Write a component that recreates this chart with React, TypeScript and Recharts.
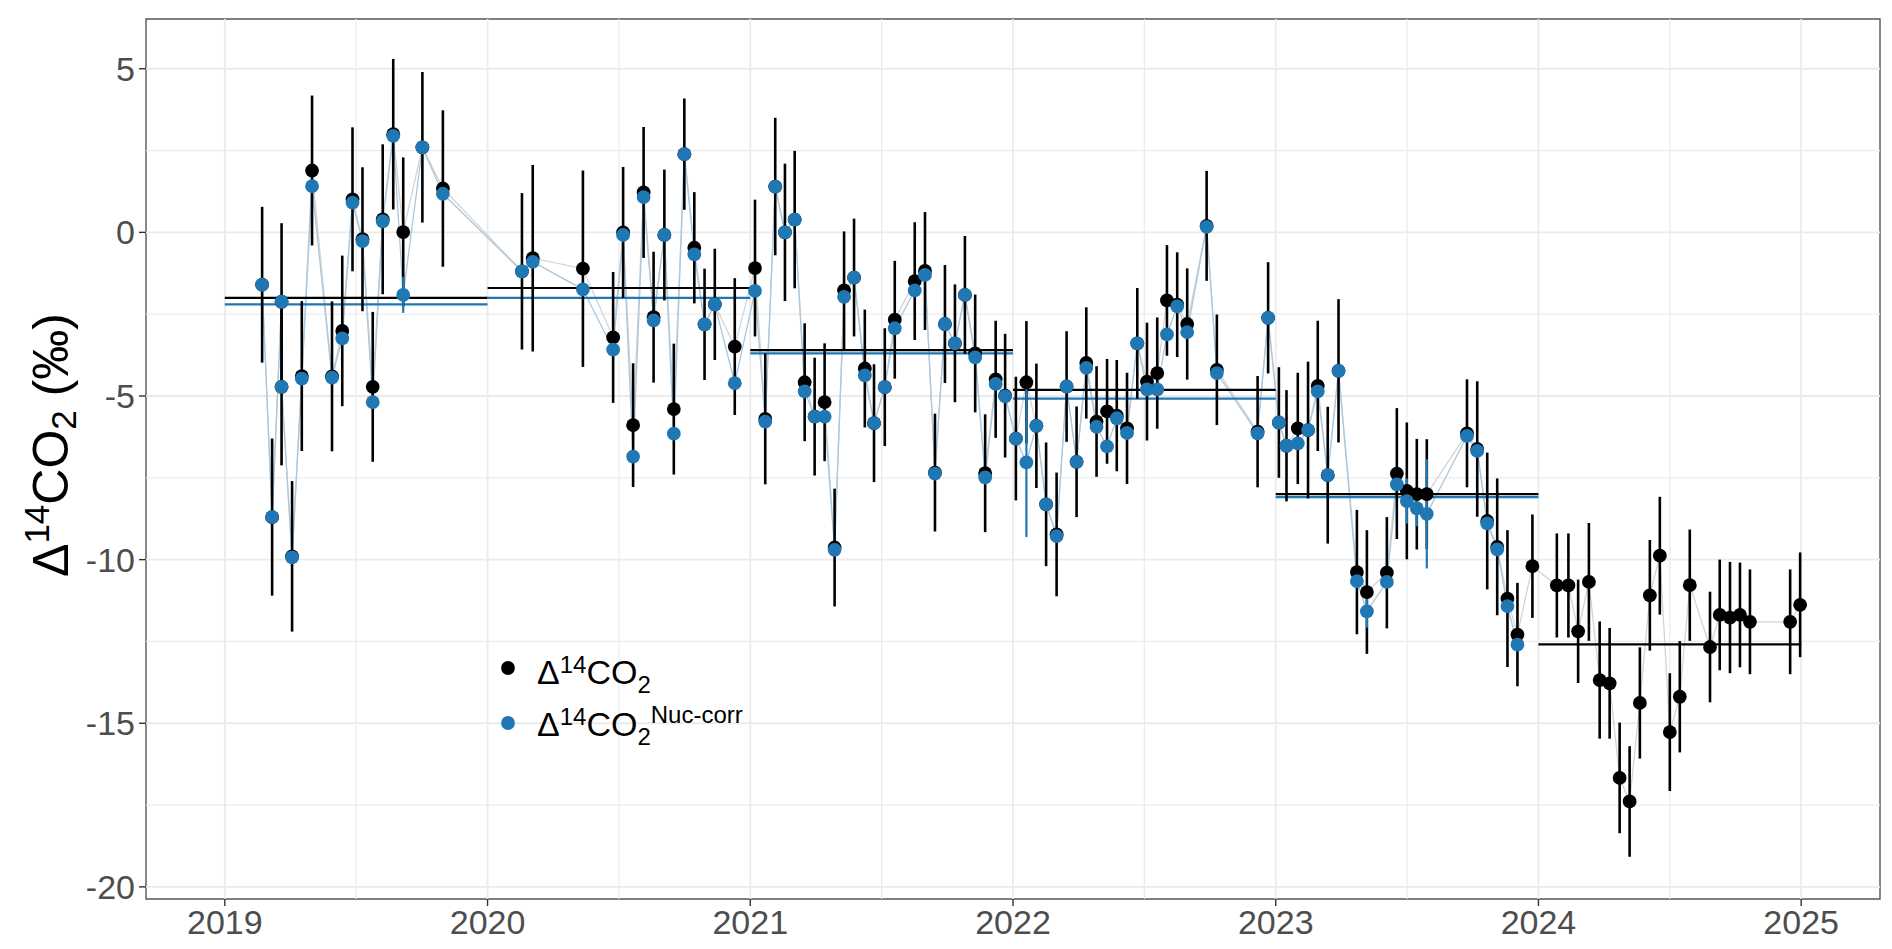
import React from 'react';
import {
  ComposedChart, Line, Scatter, ErrorBar, XAxis, YAxis, ReferenceLine, ReferenceArea, Legend,
} from 'recharts';

// sample dates (decimal year)
const sampleDates = [
  2019.142, 2019.18, 2019.216, 2019.216, 2019.256, 2019.293, 2019.332, 2019.408, 2019.447, 2019.486,
  2019.524, 2019.563, 2019.601, 2019.641, 2019.679, 2019.752, 2019.83,
  2020.131, 2020.172, 2020.363, 2020.478, 2020.516, 2020.554, 2020.594, 2020.632, 2020.673, 2020.709,
  2020.749, 2020.787, 2020.826, 2020.865, 2020.941,
  2021.018, 2021.057, 2021.095, 2021.132, 2021.169, 2021.207, 2021.245, 2021.283, 2021.321, 2021.357,
  2021.395, 2021.436, 2021.471, 2021.512, 2021.55, 2021.626, 2021.665, 2021.703, 2021.741, 2021.779,
  2021.817, 2021.856, 2021.894, 2021.934, 2021.97,
  2022.011, 2022.051, 2022.089, 2022.126, 2022.166, 2022.204, 2022.242, 2022.279, 2022.318, 2022.358,
  2022.395, 2022.434, 2022.473, 2022.51, 2022.549, 2022.586, 2022.625, 2022.663, 2022.737, 2022.776,
  2022.931, 2022.971,
  2023.012, 2023.041, 2023.084, 2023.123, 2023.16, 2023.198, 2023.239, 2023.309, 2023.347, 2023.423,
  2023.461, 2023.499, 2023.537, 2023.575, 2023.728, 2023.767, 2023.805, 2023.843, 2023.882, 2023.92,
  2023.977,
  2024.07, 2024.114, 2024.151, 2024.192, 2024.233, 2024.271, 2024.309, 2024.347, 2024.386, 2024.424,
  2024.462, 2024.5, 2024.538, 2024.576, 2024.653, 2024.69, 2024.729, 2024.767, 2024.805, 2024.958,
  2024.996,
];

// Δ14CO2 (‰)
const d14co2 = [
  -1.6, -8.7, -2.12, -4.72, -9.9, -4.39, 1.89, -4.4, -3.01, 1.01,
  -0.21, -4.72, 0.4, 3.0, 0.01, 2.6, 1.34,
  -1.19, -0.79, -1.11, -3.21, 0.0, -5.89, 1.22, -2.59, -0.08, -5.4,
  2.39, -0.47, -2.81, -2.2, -3.49,
  -1.09, -5.7, 1.4, 0.0, 0.39, -4.58, -5.63, -5.19, -9.63, -1.77,
  -1.38, -4.16, -5.83, -4.73, -2.67, -1.49, -1.18, -7.34, -2.8, -3.39,
  -1.91, -3.7, -7.36, -4.49, -4.99,
  -6.3, -4.58, -5.91, -8.31, -9.23, -4.71, -7.01, -3.99, -5.78, -5.47,
  -5.6, -5.99, -3.39, -4.56, -4.3, -2.08, -2.21, -2.8, 0.2, -4.2,
  -6.09, -2.61,
  -5.81, -6.52, -5.99, -6.04, -4.69, -7.42, -4.23, -10.38, -10.99, -10.4,
  -7.37, -7.9, -8.0, -8.0, -6.14, -6.62, -8.82, -9.61, -11.19, -12.29,
  -10.2,
  -10.79, -10.79, -12.19, -10.68, -13.68, -13.78, -16.67, -17.39, -14.38, -11.09,
  -9.88, -15.27, -14.19, -10.78, -12.67, -11.69, -11.77, -11.69, -11.9, -11.9,
  -11.38,
];

const d14co2Err = [
  2.38, 2.4, 2.4, 2.4, 2.3, 2.29, 2.29, 2.29, 2.3, 2.2,
  2.2, 2.29, 2.29, 2.3, 2.28, 2.3, 2.39,
  2.39, 2.85, 3.0, 2.0, 2.0, 1.89, 2.0, 2.0, 2.0, 2.0,
  1.7, 1.7, 1.7, 1.7, 2.09,
  2.09, 2.0, 2.1, 2.1, 2.1, 1.8, 1.8, 1.8, 1.8, 1.8,
  1.8, 1.8, 1.8, 1.8, 1.8, 1.8, 1.8, 1.8, 1.8, 1.8,
  1.8, 1.8, 1.8, 1.79, 1.89,
  1.89, 1.87, 1.9, 1.89, 1.89, 1.69, 1.69, 1.7, 1.69, 1.6,
  1.7, 1.7, 1.69, 1.8, 1.7, 1.69, 1.6, 1.7, 1.68, 1.69,
  1.7, 1.7,
  1.69, 1.7, 1.7, 2.09, 1.99, 2.09, 2.19, 1.9, 1.89, 1.7,
  2.0, 2.09, 1.69, 1.68, 1.65, 2.07, 2.09, 2.09, 2.09, 1.58,
  1.58,
  1.59, 1.59, 1.58, 1.8, 1.79, 1.69, 1.69, 1.69, 1.7, 1.69,
  1.8, 1.8, 1.7, 1.7, 1.69, 1.69, 1.7, 1.6, 1.6, 1.6,
  1.6,
];

// Δ14CO2 Nuc-corr (‰), none after 2023.92
const nucCorr = [
  -1.6, -8.7, -2.12, -4.72, -9.93, -4.47, 1.41, -4.44, -3.24, 0.91,
  -0.27, -5.19, 0.34, 2.95, -1.91, 2.6, 1.18,
  -1.19, -0.9, -1.74, -3.58, -0.08, -6.85, 1.08, -2.69, -0.08, -6.15,
  2.39, -0.67, -2.81, -2.2, -4.61,
  -1.79, -5.78, 1.4, 0.0, 0.39, -4.86, -5.63, -5.63, -9.7, -1.97,
  -1.38, -4.37, -5.83, -4.73, -2.93, -1.77, -1.3, -7.37, -2.8, -3.39,
  -1.91, -3.82, -7.49, -4.63, -5.01,
  -6.3, -7.03, -5.91, -8.31, -9.28, -4.71, -7.01, -4.14, -5.94, -6.54,
  -5.68, -6.13, -3.39, -4.8, -4.8, -3.12, -2.26, -3.05, 0.17, -4.3,
  -6.14, -2.61,
  -5.81, -6.52, -6.45, -6.04, -4.86, -7.42, -4.23, -10.66, -11.58, -10.68,
  -7.7, -8.21, -8.43, -8.6, -6.22, -6.68, -8.89, -9.69, -11.42, -12.6,
  null,
  null, null, null, null, null, null, null, null, null, null,
  null, null, null, null, null, null, null, null, null, null,
  null,
];

// extra uncertainty drawn for a few corrected samples (index -> ‰)
const nucCorrErr: Record<number, number> = {
  14: 0.55, 58: 2.28, 87: 0.5, 90: 0.69, 91: 0.55, 92: 1.67,
};

const years = [2019, 2020, 2021, 2022, 2023, 2024];
const annualMean = [-2.0, -1.7, -3.6, -4.81, -8.0, -12.59];
const annualMeanNuc = [-2.2, -2.0, -3.7, -5.08, -8.09, null];

const xTicks = [2019, 2020, 2021, 2022, 2023, 2024, 2025];
const xMinor = [2019.5, 2020.5, 2021.5, 2022.5, 2023.5, 2024.5];
const yTicks = [-20, -15, -10, -5, 0, 5];
const yMinor = [-17.5, -12.5, -7.5, -2.5, 2.5];

const X_DOMAIN: [number, number] = [2018.7, 2025.3];
const Y_DOMAIN: [number, number] = [-20.37, 6.52];

const BLUE = '#1f77b4';
const GRID = '#ebebeb';
const FONT = '"Liberation Sans", Arial, sans-serif';

const rawData = sampleDates.map((t, i) => ({ t, v: d14co2[i], e: d14co2Err[i] }));
const corrData = sampleDates
  .map((t, i) => ({ t, v: nucCorr[i], e: nucCorrErr[i] ?? 0 }))
  .filter((d) => d.v !== null);

const blackDot = (p: any) => <circle cx={p.cx} cy={p.cy} r={6.9} fill="#000" />;
const blueDot = (p: any) => <circle cx={p.cx} cy={p.cy} r={6.9} fill={BLUE} />;

const YLabel = () => (
  <text
    transform="translate(68,445) rotate(-90)"
    textAnchor="middle"
    fontSize={50}
    fontFamily={FONT}
    fill="#000"
  >
    Δ<tspan dy={-19} fontSize={35}>14</tspan>
    <tspan dy={19}>CO</tspan>
    <tspan dy={8} fontSize={35}>2</tspan>
    <tspan dy={-8}> (‰)</tspan>
  </text>
);

const LegendBox = () => (
  <svg width={380} height={130} style={{ fontFamily: FONT }}>
    <circle cx={28} cy={28} r={6.9} fill="#000" />
    <text x={57} y={44} fontSize={34} fill="#000">
      Δ<tspan dy={-11} fontSize={24}>14</tspan>
      <tspan dy={11}>CO</tspan>
      <tspan dy={9} fontSize={24}>2</tspan>
    </text>
    <circle cx={28} cy={83} r={6.9} fill={BLUE} />
    <text x={57} y={96} fontSize={34} fill="#000">
      Δ<tspan dy={-11} fontSize={24}>14</tspan>
      <tspan dy={11}>CO</tspan>
      <tspan dy={9} fontSize={24}>2</tspan>
      <tspan dy={-22} fontSize={24}>Nuc-corr</tspan>
    </text>
  </svg>
);

export default function App() {
  return (
    <div style={{ position: 'absolute', left: 0, top: 0, width: 1892, height: 949, background: '#fff' }}>
      <ComposedChart width={1892} height={949} margin={{ top: 19, right: 12, bottom: 0, left: 0 }}>
        <XAxis
          type="number"
          dataKey="t"
          domain={X_DOMAIN}
          ticks={xTicks}
          allowDataOverflow
          height={50}
          axisLine={false}
          tickLine={{ stroke: '#333', strokeWidth: 1.4 }}
          tickSize={7}
          tickMargin={4}
          tick={{ fontSize: 34, fill: '#4d4d4d', fontFamily: FONT }}
        />
        <YAxis
          type="number"
          dataKey="v"
          domain={Y_DOMAIN}
          ticks={yTicks}
          allowDataOverflow
          width={146}
          axisLine={false}
          tickLine={{ stroke: '#333', strokeWidth: 1.4 }}
          tickSize={7}
          tickMargin={4}
          tick={{ fontSize: 34, fill: '#4d4d4d', fontFamily: FONT }}
          label={{ content: () => <YLabel /> }}
        />

        {yMinor.map((v) => (
          <ReferenceLine key={`ym${v}`} y={v} stroke={GRID} strokeWidth={1.2} />
        ))}
        {xMinor.map((v) => (
          <ReferenceLine key={`xm${v}`} x={v} stroke={GRID} strokeWidth={1.2} />
        ))}
        {yTicks.map((v) => (
          <ReferenceLine key={`y${v}`} y={v} stroke={GRID} strokeWidth={1.8} />
        ))}
        {xTicks.map((v) => (
          <ReferenceLine key={`x${v}`} x={v} stroke={GRID} strokeWidth={1.8} />
        ))}

        <Line data={rawData} dataKey="v" stroke="#d4d4d4" strokeWidth={1.3} dot={false} isAnimationActive={false} />
        <Line data={corrData} dataKey="v" stroke="#a9c8df" strokeWidth={1.3} dot={false} isAnimationActive={false} />

        {years.map((y, i) => (
          <ReferenceLine
            key={`mb${y}`}
            segment={[{ x: y, y: annualMean[i] }, { x: y + 1, y: annualMean[i] }]}
            stroke="#000"
            strokeWidth={2.2}
          />
        ))}
        {years.map((y, i) =>
          annualMeanNuc[i] === null ? null : (
            <ReferenceLine
              key={`mn${y}`}
              segment={[{ x: y, y: annualMeanNuc[i] }, { x: y + 1, y: annualMeanNuc[i] }]}
              stroke={BLUE}
              strokeWidth={2.2}
            />
          )
        )}

        <Scatter data={rawData} dataKey="v" shape={blackDot} isAnimationActive={false}>
          <ErrorBar dataKey="e" direction="y" width={0} stroke="#000" strokeWidth={2.6} />
        </Scatter>
        <Scatter data={corrData} dataKey="v" shape={blueDot} isAnimationActive={false}>
          <ErrorBar dataKey="e" direction="y" width={0} stroke={BLUE} strokeWidth={2.2} />
        </Scatter>

        <ReferenceArea
          x1={X_DOMAIN[0]}
          x2={X_DOMAIN[1]}
          y1={Y_DOMAIN[0]}
          y2={Y_DOMAIN[1]}
          fill="none"
          stroke="#555"
          strokeWidth={1.4}
        />

        <Legend
          layout="vertical"
          align="center"
          verticalAlign="middle"
          content={() => <LegendBox />}
          wrapperStyle={{ position: 'absolute', left: 480, top: 640, width: 380, height: 130 }}
        />
      </ComposedChart>
    </div>
  );
}
